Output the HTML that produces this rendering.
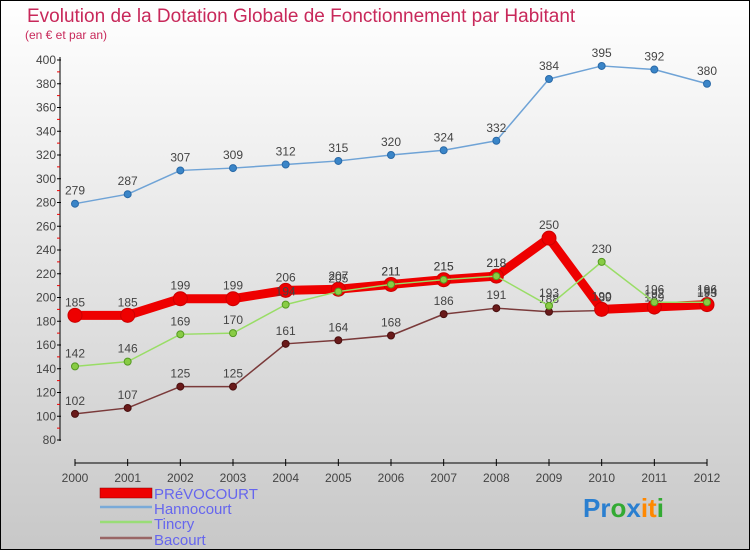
<!DOCTYPE html>
<html><head><meta charset="utf-8"><style>
body{margin:0}
svg text{font-family:"Liberation Sans",sans-serif}
</style></head><body>
<svg width="750" height="550" viewBox="0 0 750 550" xmlns="http://www.w3.org/2000/svg">
<defs><linearGradient id="bg" x1="0" y1="0" x2="0" y2="1"><stop offset="0" stop-color="#ffffff"/><stop offset="1" stop-color="#c8c8c8"/></linearGradient></defs>
<rect x="0.5" y="0.5" width="749" height="549" fill="url(#bg)" stroke="#000"/>
<text x="27" y="22" font-size="19" fill="#c8285a">Evolution de la Dotation Globale de Fonctionnement par Habitant</text>
<text x="25" y="39" font-size="12" fill="#c8285a">(en € et par an)</text>
<g id="axes"></g>
<g id="series"></g>
<g id="legend">
<rect x="100" y="488" width="52" height="10" fill="#ee0000" stroke="#800" stroke-width="0.5"/>
<text x="154" y="499" font-size="15" fill="#6666ee">PRéVOCOURT</text>
<line x1="100" y1="507" x2="152" y2="507" stroke="#7aaad8" stroke-width="2.5"/>
<text x="154" y="514" font-size="15" fill="#6666ee">Hannocourt</text>
<line x1="100" y1="522" x2="152" y2="522" stroke="#99dd77" stroke-width="2.5"/>
<text x="154" y="529" font-size="15" fill="#6666ee">Tincry</text>
<line x1="100" y1="538" x2="152" y2="538" stroke="#996666" stroke-width="2.5"/>
<text x="154" y="545" font-size="15" fill="#6666ee">Bacourt</text>
</g>
<g font-size="26" font-weight="bold">
<text x="583" y="517"><tspan fill="#2a7fd0">Pr</tspan><tspan fill="#33aa33">o</tspan><tspan fill="#2a7fd0">x</tspan><tspan fill="#ff8800">it</tspan><tspan fill="#33aa33">i</tspan></text>
</g>
</svg>
<script>
const years=["2000","2001","2002","2003","2004","2005","2006","2007","2008","2009","2010","2011","2012"];
const yTicks=[80,100,120,140,160,180,200,220,240,260,280,300,320,340,360,380,400];
const prevocourt=[185,185,199,199,206,207,211,215,218,250,190,192,194];
const hannocourt=[279,287,307,309,312,315,320,324,332,384,395,392,380];
const tincry=[142,146,169,170,194,205,211,215,218,193,230,196,196];
const bacourt=[102,107,125,125,161,164,168,186,191,188,189,189,193];
const NS="http://www.w3.org/2000/svg";
function X(i){return 75+i*(707-75)/(years.length-1);}
function Y(v){return 440-(v-80)*(380/320);}
function mk(tag,attrs,parent){const e=document.createElementNS(NS,tag);for(const k in attrs)e.setAttribute(k,attrs[k]);parent.appendChild(e);return e;}
const ax=document.getElementById('axes');
let l=mk('line',{x1:60,y1:57,x2:60,y2:441,stroke:'#000','stroke-width':1},ax);


yTicks.forEach((v,i)=>{
 const t=mk('text',{x:56,y:Y(v)+4,'font-size':12,fill:'#444','text-anchor':'end'},ax);t.textContent=v;
 
 
 mk('line',{x1:57,y1:Y(v),x2:61,y2:Y(v),stroke:'#000'},ax);
 if(i<yTicks.length-1)mk('line',{x1:57,y1:Y(v+10),x2:60,y2:Y(v+10),stroke:'#e00'},ax);
});
l=mk('line',{x1:75,y1:463,x2:707,y2:463,stroke:'#000','stroke-width':1},ax);


years.forEach((y,i)=>{
 mk('line',{x1:X(i),y1:459,x2:X(i),y2:466,stroke:'#000'},ax);
 const t=mk('text',{x:X(i),y:482,'font-size':12,fill:'#444','text-anchor':'middle'},ax);t.textContent=y;
 
 
});
const sg=document.getElementById('series');
function series(name,data,color,w,r,fillc,strokec){
 const g=mk('g',{},sg);
 
 
 const p=mk('polyline',{points:data.map((v,i)=>X(i)+','+Y(v)).join(' '),fill:'none',stroke:color,'stroke-width':w,'stroke-linejoin':'round'},g);
 
 
 data.forEach((v,i)=>{
  const c=mk('circle',{cx:X(i),cy:Y(v),r:r,fill:fillc,stroke:strokec,'stroke-width':1},g);
  
  
  const t=mk('text',{x:X(i),y:Y(v)-9,'font-size':12,fill:'#444','text-anchor':'middle'},g);t.textContent=v;
  
  
 });
}
series('hannocourt',hannocourt,'#6fa3d6',1.5,3.5,'#3a85c8','#2a6aa8');
series('bacourt',bacourt,'#7a3a3a',1.5,3.5,'#6a1a1a','#4a1010');
series('prevocourt',prevocourt,'#ee0000',9,7,'#ee0000','#cc0000');
series('tincry',tincry,'#99dd66',1.5,3.5,'#88cc44','#559922');
</script>
</body></html>
